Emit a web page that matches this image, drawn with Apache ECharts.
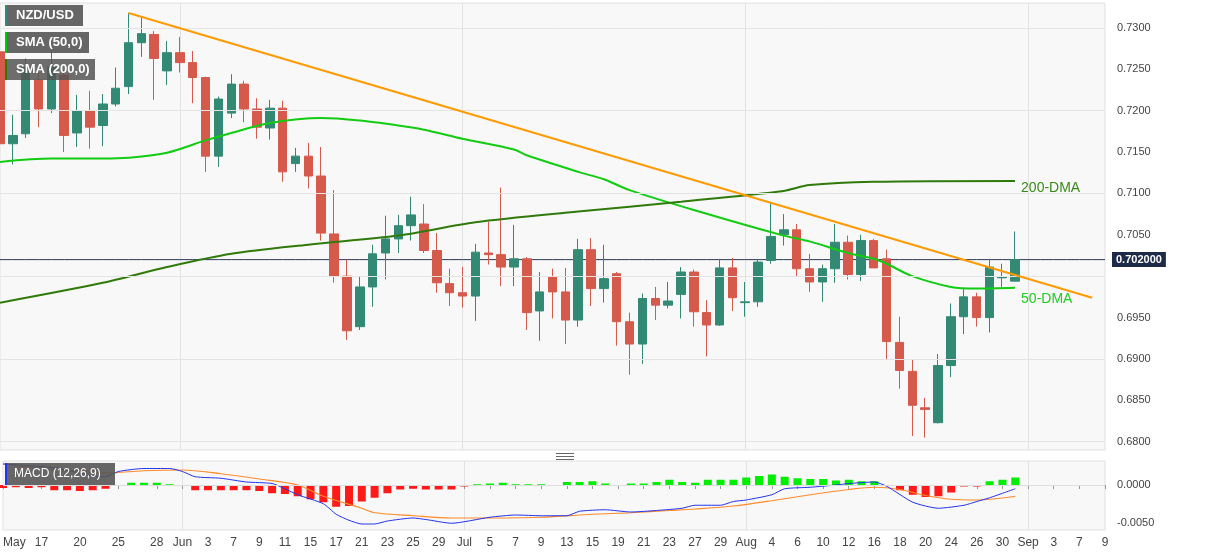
<!DOCTYPE html>
<html><head><meta charset="utf-8">
<script src="https://cdn.jsdelivr.net/npm/echarts@6/dist/echarts.min.js"></script>
<style>html,body{margin:0;padding:0;background:#fff}#c{width:1207px;height:555px}</style>
</head><body><div id="c"></div>
<script>
const dates = ["05-12","05-13","05-14","05-17","05-18","05-19","05-20","05-21","05-24","05-25","05-26","05-27","05-28","05-31",
"06-01","06-02","06-03","06-04","06-07","06-08","06-09","06-10","06-11","06-14","06-15","06-16","06-17","06-18","06-21","06-22","06-23","06-24","06-25","06-28","06-29","06-30",
"07-01","07-02","07-05","07-06","07-07","07-08","07-09","07-12","07-13","07-14","07-15","07-16","07-19","07-20","07-21","07-22","07-23","07-26","07-27","07-28","07-29","07-30",
"08-02","08-03","08-04","08-05","08-06","08-09","08-10","08-11","08-12","08-13","08-16","08-17","08-18","08-19","08-20","08-23","08-24","08-25","08-26","08-27","08-30","08-31",
"09-01","09-02","09-03","09-06","09-07","09-08","09-09"];
const tickDates = ["05-12","05-17","05-20","05-25","05-28","06-01","06-03","06-07","06-09","06-11","06-15","06-17","06-21","06-23","06-25","06-29",
"07-01","07-05","07-07","07-09","07-13","07-15","07-19","07-21","07-23","07-27","07-29","08-02","08-04","08-06","08-10","08-12","08-16","08-18","08-20","08-24","08-26","08-30",
"09-01","09-03","09-07","09-09"];
const monthNames = {"05":"May","06":"Jun","07":"Jul","08":"Aug","09":"Sep"};
// [open, close, low, high]
const candles = [
[0.7271,0.7160,0.7150,0.7279],[0.7160,0.7170,0.7135,0.7195],[0.7172,0.7252,0.7167,0.7263],[0.7237,0.7202,0.7180,0.7246],
[0.7202,0.7253,0.7197,0.7271],[0.7243,0.7170,0.7150,0.7249],[0.7173,0.7200,0.7156,0.7219],[0.7200,0.7180,0.7154,0.7224],
[0.7182,0.7208,0.7157,0.7220],[0.7208,0.7227,0.7205,0.7252],[0.7229,0.7282,0.7220,0.7318],[0.7282,0.7293,0.7265,0.7312],
[0.7292,0.7263,0.7213,0.7296],[0.7248,0.7270,0.7231,0.7284],[0.7270,0.7258,0.7246,0.7289],[0.7258,0.7240,0.7209,0.7272],
[0.7240,0.7145,0.7126,0.7241],[0.7145,0.7214,0.7132,0.7217],[0.7197,0.7232,0.7191,0.7244],[0.7232,0.7202,0.7186,0.7236],
[0.7202,0.7180,0.7166,0.7215],[0.7179,0.7203,0.7165,0.7213],[0.7203,0.7126,0.7114,0.7212],[0.7136,0.7145,0.7126,0.7155],
[0.7145,0.7121,0.7106,0.7161],[0.7121,0.7052,0.7043,0.7156],[0.7051,0.7000,0.6992,0.7104],[0.7000,0.6934,0.6923,0.7020],
[0.6939,0.6987,0.6935,0.6999],[0.6987,0.7027,0.6963,0.7038],[0.7028,0.7045,0.6996,0.7073],[0.7045,0.7061,0.7028,0.7074],
[0.7061,0.7074,0.7043,0.7096],[0.7063,0.7031,0.7028,0.7087],[0.7031,0.6992,0.6980,0.7052],[0.6991,0.6980,0.6964,0.7009],
[0.6980,0.6976,0.6962,0.7011],[0.6976,0.7029,0.6946,0.7039],[0.7028,0.7026,0.7014,0.7066],[0.7026,0.7011,0.6988,0.7107],
[0.7011,0.7021,0.6988,0.7062],[0.7021,0.6956,0.6935,0.7023],[0.6958,0.6981,0.6922,0.7005],[0.6999,0.6981,0.6949,0.7009],
[0.6981,0.6947,0.6918,0.7010],[0.6947,0.7032,0.6939,0.7045],[0.7032,0.6985,0.6964,0.7046],[0.6985,0.6997,0.6968,0.7038],
[0.7003,0.6945,0.6916,0.7005],[0.6945,0.6918,0.6881,0.6956],[0.6918,0.6973,0.6894,0.6979],[0.6973,0.6965,0.6947,0.6987],
[0.6965,0.6970,0.6961,0.6993],[0.6978,0.7005,0.6949,0.7011],[0.7005,0.6957,0.6939,0.7008],[0.6956,0.6941,0.6903,0.6971],
[0.6941,0.7010,0.6940,0.7021],[0.7010,0.6974,0.6958,0.7022],[0.6968,0.6969,0.6951,0.6993],[0.6969,0.7017,0.6963,0.7020],
[0.7019,0.7048,0.7015,0.7089],[0.7050,0.7056,0.7037,0.7075],[0.7056,0.7009,0.7000,0.7063],[0.7009,0.6993,0.6981,0.7027],
[0.6993,0.7009,0.6969,0.7014],[0.7009,0.7041,0.6992,0.7063],[0.7041,0.7002,0.6996,0.7049],[0.7002,0.7043,0.6994,0.7050],
[0.7043,0.7010,0.7010,0.7045],[0.7021,0.6921,0.6900,0.7032],[0.6920,0.6886,0.6864,0.6951],[0.6885,0.6844,0.6807,0.6899],
[0.6841,0.6839,0.6805,0.6853],[0.6823,0.6892,0.6822,0.6906],[0.6892,0.6951,0.6878,0.6967],[0.6951,0.6975,0.6930,0.6986],
[0.6975,0.6950,0.6939,0.6980],[0.6950,0.7011,0.6932,0.7021],[0.6998,0.6999,0.6987,0.7015],[0.6994,0.7020,0.6994,0.7054]
];
// sparse readings: [index, value]
const sma50Pts = [[0,0.7138],[4,0.7142],[8,0.7142],[10,0.7143],[13,0.7149],[16,0.7164],[18,0.7173],[21,0.7185],[25,0.7191],[28,0.7188],[31,0.7182],[33,0.7177],[36,0.7166],[40,0.7153],[41,0.7146],[45,0.7126],[47,0.7117],[49,0.7104],[54,0.7080],[61,0.7049],[63,0.7042],[66,0.7028],[68,0.7021],[69,0.7015],[71,0.7000],[74,0.6987],[76,0.6985],[79,0.6986]];
const sma200Pts = [[0,0.6968],[8,0.6992],[13,0.7011],[18,0.7027],[24,0.7038],[31,0.7049],[37,0.7065],[45,0.7078],[53,0.7090],[61,0.7103],[63,0.7110],[68,0.7114],[79,0.7115]];
const trendPts = [[10,0.7318],[85,0.6974]];
const lastPrice = 0.7020;
const macdHist = [-0.0004,-0.0003,-0.0004,-0.0003,-0.0007,-0.0007,-0.0008,-0.0007,-0.0005,0,
0.0003,0.0003,0.0003,0.0001,0,-0.0007,-0.0007,-0.0007,-0.0007,-0.0007,-0.0008,-0.0011,-0.0012,-0.0015,-0.0019,-0.0023,-0.0029,-0.0028,-0.0022,-0.0017,
-0.0011,-0.0006,-0.0005,-0.0006,-0.0006,-0.0006,-0.0002,0.0001,0.0002,0.0003,0.0001,0.0001,0.0001,0,0.0004,0.0004,0.0005,0.0002,0,0.0002,
0.0002,0.0004,0.0007,0.0004,0.0003,0.0007,0.0007,0.0007,0.0010,0.0012,0.0014,0.0011,0.0009,0.0008,0.0008,0.0006,0.0007,0.0005,0.0005,-0.0001,
-0.0007,-0.0013,-0.0016,-0.0015,-0.0010,-0.0002,-0.0002,0.0005,0.0007,0.0010];
const macdPts = [[0,0.0028],[4,0.0023],[7,0.0012],[8,0.0011],[9,0.0018],[11,0.0022],[13,0.0022],[14,0.0018],[15,0.0011],[17,0.0009],[19,0.0004],[21,0.0002],[22,-0.0005],[23,-0.0013],[25,-0.0025],[26,-0.0039],[27,-0.0047],[28,-0.0052],[29,-0.0052],[30,-0.0048],[32,-0.0044],[33,-0.0046],[35,-0.0051],[38,-0.0043],[40,-0.0040],[42,-0.0041],[44,-0.0041],[45,-0.0035],[47,-0.0033],[49,-0.0036],[51,-0.0034],[53,-0.0031],[54,-0.0027],[56,-0.0027],[57,-0.0022],[58,-0.0020],[60,-0.0013],[61,-0.0005],[63,-0.0003],[65,0.0000],[66,0.0002],[68,0.0004],[69,-0.0002],[71,-0.0023],[73,-0.0031],[75,-0.0027],[76,-0.0022],[77,-0.0017],[79,-0.0005]];
const signalPts = [[0,0.0028],[2,0.0024],[5,0.0020],[8,0.0016],[11,0.0019],[14,0.0020],[17,0.0015],[20,0.0008],[23,0.0000],[25,-0.0015],[28,-0.0031],[29,-0.0037],[32,-0.0041],[35,-0.0044],[39,-0.0044],[42,-0.0043],[46,-0.0039],[49,-0.0037],[52,-0.0034],[54,-0.0032],[57,-0.0028],[60,-0.0021],[63,-0.0013],[66,-0.0006],[68,-0.0003],[70,-0.0006],[72,-0.0014],[74,-0.0019],[76,-0.0020],[79,-0.0015]];
const priceTicks = [0.6800,0.6850,0.6900,0.6950,0.7000,0.7050,0.7100,0.7150,0.7200,0.7250,0.7300];

function spread(pts){const a=dates.map(()=>null);pts.forEach(p=>{a[p[0]]=p[1];});return a;}
const monthStarts = dates.map((d,i)=> i>0 && d.slice(0,2)!==dates[i-1].slice(0,2));
const tickSet = new Set(tickDates);
function lbl(v){ const i=dates.indexOf(v); if(i===0||monthStarts[i]) return monthNames[v.slice(0,2)]; return String(parseInt(v.slice(3),10)); }

const chart = echarts.init(document.getElementById('c'));
const GRIDW = 1105;
const FONT = 'Liberation Sans, Arial';
chart.setOption({
  backgroundColor:'#fff',
  animation:false,
  grid:[
    {left:0,top:3,width:GRIDW,height:447,show:true,backgroundColor:'#f8f8f8',borderColor:'#e0e0e0'},
    {left:0,top:461,width:GRIDW,height:69,show:true,backgroundColor:'#f8f8f8',borderColor:'#e0e0e0'}
  ],
  xAxis:[
    {type:'category',data:dates,gridIndex:0,boundaryGap:false,axisLabel:{show:false},axisTick:{show:false},axisLine:{show:false},
     splitLine:{show:true,interval:(i)=>monthStarts[i],lineStyle:{color:'#e2e2e2'}}},
    {type:'category',data:dates,gridIndex:1,boundaryGap:false,
     axisLabel:{interval:(i,v)=>tickSet.has(v),formatter:lbl,color:'#444',fontSize:12,margin:7,fontFamily:FONT,alignMinLabel:'left'},
     axisTick:{interval:(i,v)=>tickSet.has(v),length:4,lineStyle:{color:'#999'}},axisLine:{lineStyle:{color:'#bbb'}},
     splitLine:{show:true,interval:(i)=>monthStarts[i],lineStyle:{color:'#e2e2e2'}}}
  ],
  yAxis:[
    {type:'value',gridIndex:0,position:'right',min:0.6790,max:0.7330,interval:0.0005,
     splitLine:{show:false},axisLine:{show:false},axisTick:{show:false},
     axisLabel:{color:'#444',fontSize:11,margin:12,fontFamily:FONT,
       formatter:v=>(Math.abs(v*200-Math.round(v*200))<1e-6 && Math.abs(v-0.7)>1e-6)?v.toFixed(4):''}},
    {type:'value',gridIndex:1,position:'right',min:-0.006,max:0.0032,interval:0.001,
     splitLine:{show:false},axisLine:{show:false},axisTick:{show:false},
     axisLabel:{color:'#444',fontSize:11,margin:12,fontFamily:FONT,
       formatter:v=>Math.abs(v)<1e-9?'0.0000':(Math.abs(v+0.005)<1e-9?'-0.0050':'')}}
  ],
  series:[
    {type:'line',xAxisIndex:0,yAxisIndex:0,data:dates.map(()=>null),silent:true,z:1,
     markLine:{silent:true,symbol:'none',label:{show:false},lineStyle:{color:'#e4e4e4',type:'solid',width:1},
       data:priceTicks.map(v=>({yAxis:v}))}},
    {type:'line',xAxisIndex:0,yAxisIndex:0,data:dates.map(()=>lastPrice),showSymbol:false,silent:true,z:2,
     lineStyle:{color:'#2b3a5a',width:1},
     endLabel:{show:true,formatter:lastPrice.toFixed(6),backgroundColor:'#1e2b48',color:'#fff',fontWeight:'bold',fontSize:11,padding:[2,4],distance:7,fontFamily:FONT}},
    {type:'candlestick',xAxisIndex:0,yAxisIndex:0,data:candles,barWidth:9,z:3,
     itemStyle:{color:'#338a74',color0:'#d65a4b',borderColor:'#338a74',borderColor0:'#d65a4b',borderWidth:1}},
    {type:'line',xAxisIndex:0,yAxisIndex:0,data:spread(sma50Pts),connectNulls:true,smooth:0.3,showSymbol:false,z:4,
     lineStyle:{color:'#11cc11',width:2},
     endLabel:{show:true,formatter:'50-DMA',color:'#22cc22',fontSize:14,offset:[-2,11],fontFamily:FONT}},
    {type:'line',xAxisIndex:0,yAxisIndex:0,data:spread(sma200Pts),connectNulls:true,smooth:0.3,showSymbol:false,z:4,
     lineStyle:{color:'#2f7a0a',width:2},
     endLabel:{show:true,formatter:'200-DMA',color:'#3a8a1a',fontSize:14,offset:[-2,7],fontFamily:FONT}},
    {type:'line',xAxisIndex:0,yAxisIndex:0,data:spread(trendPts),connectNulls:true,showSymbol:false,z:5,
     lineStyle:{color:'#ff9a00',width:2}},
    {type:'bar',xAxisIndex:1,yAxisIndex:1,barWidth:8,z:2,
     data:macdHist.map(v=>({value:v,itemStyle:{color:v>=0?'#00ee00':'#ff1a1a'}})),
     markLine:{silent:true,symbol:'none',label:{show:false},lineStyle:{color:'#dddddd',type:'solid',width:1},
       data:[{yAxis:0},{yAxis:-0.005}]}},
    {type:'line',xAxisIndex:1,yAxisIndex:1,data:spread(signalPts),connectNulls:true,smooth:0.3,showSymbol:false,z:3,
     lineStyle:{color:'#ff8a2a',width:1.2}},
    {type:'line',xAxisIndex:1,yAxisIndex:1,data:spread(macdPts),connectNulls:true,smooth:0.2,showSymbol:false,z:4,
     lineStyle:{color:'#2233ee',width:1}}
  ],
  graphic:[
    {type:'rect',left:5,top:5,shape:{width:78,height:21},style:{fill:'rgba(85,85,85,0.9)'},z:100},
    {type:'rect',left:5,top:5,shape:{width:2,height:21},style:{fill:'#2e8b7a'},z:101},
    {type:'text',left:16,top:9,style:{text:'NZD/USD',fill:'#fff',font:'bold 13px Liberation Sans, Arial'},z:101},
    {type:'rect',left:5,top:32,shape:{width:84,height:21},style:{fill:'rgba(85,85,85,0.9)'},z:100},
    {type:'rect',left:5,top:32,shape:{width:2,height:21},style:{fill:'#00cc00'},z:101},
    {type:'text',left:16,top:36,style:{text:'SMA (50,0)',fill:'#fff',font:'bold 13px Liberation Sans, Arial'},z:101},
    {type:'rect',left:5,top:59,shape:{width:90,height:21},style:{fill:'rgba(85,85,85,0.85)'},z:100},
    {type:'rect',left:5,top:59,shape:{width:2,height:21},style:{fill:'#2d7a00'},z:101},
    {type:'text',left:16,top:63,style:{text:'SMA (200,0)',fill:'#fff',font:'bold 13px Liberation Sans, Arial'},z:101},
    {type:'rect',left:5,top:463,shape:{width:110,height:22},style:{fill:'rgba(85,85,85,0.9)'},z:100},
    {type:'rect',left:5,top:463,shape:{width:2,height:22},style:{fill:'#2233ee'},z:101},
    {type:'text',left:14,top:468,style:{text:'MACD (12,26,9)',fill:'#fff',font:'12px Liberation Sans, Arial'},z:101},
    {type:'rect',left:556,top:453,shape:{width:18,height:1},style:{fill:'#666'},z:100},
    {type:'rect',left:556,top:456,shape:{width:18,height:1},style:{fill:'#666'},z:100},
    {type:'rect',left:556,top:459,shape:{width:18,height:1},style:{fill:'#666'},z:100}
  ]
});
</script></body></html>
